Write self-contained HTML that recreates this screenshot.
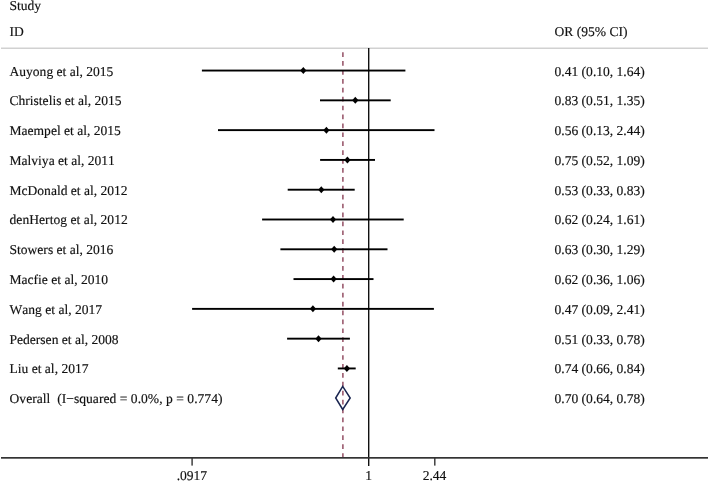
<!DOCTYPE html>
<html><head><meta charset="utf-8"><style>
html,body{margin:0;padding:0;background:#fff;}
svg{display:block;will-change:transform;}
text{font-family:"Liberation Serif",serif;font-size:13.55px;fill:#111;stroke:#111;stroke-width:0.15px;white-space:pre;font-kerning:none;text-rendering:geometricPrecision;}
</style></head><body>
<svg width="709" height="481" viewBox="0 0 709 481">
<rect x="0" y="0" width="709" height="481" fill="#fff"/>

<text x="9.5" y="10">Study</text>
<text x="9.5" y="36">ID</text>
<text x="554.5" y="36.2">OR (95% CI)</text>
<rect x="1" y="47.6" width="707" height="1.2" fill="#c6c6c6"/>
<rect x="368" y="48" width="1.4" height="418" fill="#111"/>
<line x1="342.9" y1="52.2" x2="342.9" y2="457" stroke="#8c4259" stroke-width="1.4" stroke-dasharray="4.7 4.21"/>
<text x="9.5" y="75.50">Auyong et al, 2015</text>
<text x="554.5" y="75.50">0.41 (0.10, 1.64)</text>
<rect x="201.90" y="69.60" width="203.50" height="1.9" fill="#000"/>
<polygon points="300.20,70.55 303.30,67.05 306.40,70.55 303.30,74.05" fill="#000"/>
<text x="9.5" y="105.29">Christelis et al, 2015</text>
<text x="554.5" y="105.29">0.83 (0.51, 1.35)</text>
<rect x="320.00" y="99.39" width="70.70" height="1.9" fill="#000"/>
<polygon points="352.20,100.34 355.30,96.84 358.40,100.34 355.30,103.84" fill="#000"/>
<text x="9.5" y="135.08">Maempel et al, 2015</text>
<text x="554.5" y="135.08">0.56 (0.13, 2.44)</text>
<rect x="218.00" y="129.18" width="216.50" height="1.9" fill="#000"/>
<polygon points="323.30,130.13 326.40,126.63 329.50,130.13 326.40,133.63" fill="#000"/>
<text x="9.5" y="164.87">Malviya et al, 2011</text>
<text x="554.5" y="164.87">0.75 (0.52, 1.09)</text>
<rect x="320.10" y="158.97" width="54.90" height="1.9" fill="#000"/>
<polygon points="344.30,159.92 347.40,156.42 350.50,159.92 347.40,163.42" fill="#000"/>
<text x="9.5" y="194.66">McDonald et al, 2012</text>
<text x="554.5" y="194.66">0.53 (0.33, 0.83)</text>
<rect x="287.70" y="188.76" width="67.00" height="1.9" fill="#000"/>
<polygon points="318.20,189.71 321.30,186.21 324.40,189.71 321.30,193.21" fill="#000"/>
<text x="9.5" y="224.45" textLength="118.3" lengthAdjust="spacing">denHertog et al, 2012</text>
<text x="554.5" y="224.45">0.62 (0.24, 1.61)</text>
<rect x="262.10" y="218.55" width="141.60" height="1.9" fill="#000"/>
<polygon points="329.90,219.50 333.00,216.00 336.10,219.50 333.00,223.00" fill="#000"/>
<text x="9.5" y="254.24">Stowers et al, 2016</text>
<text x="554.5" y="254.24">0.63 (0.30, 1.29)</text>
<rect x="280.40" y="248.34" width="107.10" height="1.9" fill="#000"/>
<polygon points="331.10,249.29 334.20,245.79 337.30,249.29 334.20,252.79" fill="#000"/>
<text x="9.5" y="284.03">Macfie et al, 2010</text>
<text x="554.5" y="284.03">0.62 (0.36, 1.06)</text>
<rect x="293.50" y="278.13" width="80.00" height="1.9" fill="#000"/>
<polygon points="330.50,279.08 333.60,275.58 336.70,279.08 333.60,282.58" fill="#000"/>
<text x="9.5" y="313.82">Wang et al, 2017</text>
<text x="554.5" y="313.82">0.47 (0.09, 2.41)</text>
<rect x="192.10" y="307.92" width="241.80" height="1.9" fill="#000"/>
<polygon points="309.80,308.87 312.90,305.37 316.00,308.87 312.90,312.37" fill="#000"/>
<text x="9.5" y="343.61">Pedersen et al, 2008</text>
<text x="554.5" y="343.61">0.51 (0.33, 0.78)</text>
<rect x="287.10" y="337.71" width="62.80" height="1.9" fill="#000"/>
<polygon points="315.40,338.66 318.50,335.16 321.60,338.66 318.50,342.16" fill="#000"/>
<text x="9.5" y="373.40">Liu et al, 2017</text>
<text x="554.5" y="373.40">0.74 (0.66, 0.84)</text>
<rect x="337.80" y="367.50" width="17.90" height="1.9" fill="#000"/>
<polygon points="343.80,368.45 346.90,364.95 350.00,368.45 346.90,371.95" fill="#000"/>
<text x="9.5" y="403.19" textLength="213" lengthAdjust="spacing">Overall  (I−squared = 0.0%, p = 0.774)</text>
<text x="554.5" y="403.19">0.70 (0.64, 0.78)</text>
<polygon points="335.7,398 342.7,386.4 350.2,398 342.7,409.5" fill="none" stroke="#1a2550" stroke-width="1.5" stroke-linejoin="miter"/>
<rect x="1" y="457" width="707" height="1.7" fill="#333"/>
<rect x="191.40" y="458" width="1.4" height="7.6" fill="#333"/>
<rect x="434.10" y="458" width="1.4" height="7.6" fill="#333"/>
<text x="191.9" y="480" text-anchor="middle">.0917</text>
<text x="368.6" y="480" text-anchor="middle">1</text>
<text x="434.5" y="480" text-anchor="middle">2.44</text>
</svg></body></html>
